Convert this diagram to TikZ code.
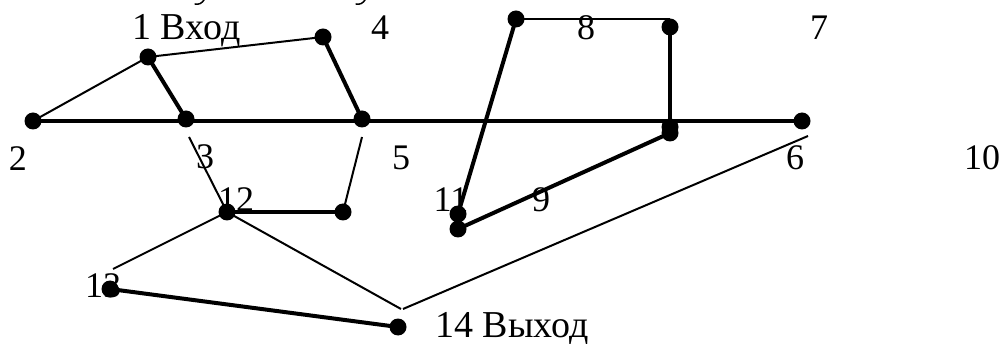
\documentclass[tikz,border=0pt]{standalone}
\usepackage{fontspec}
\setmainfont{Liberation Serif}
\tikzset{
  dotnode/.style={circle,fill=black,inner sep=0pt,minimum size=17pt},
  thinline/.style={line width=2pt},
  thickline/.style={line width=4pt},
  numlabel/.style={inner sep=0pt,font=\fontsize{36pt}{36pt}\selectfont,anchor=center},
  wordlabel/.style={inner sep=0pt,font=\fontsize{38pt}{38pt}\selectfont,anchor=base west}
}
\begin{document}
\begin{tikzpicture}[x=1pt,y=-1pt]
\useasboundingbox (0,0) rectangle (1000,344);
% labels
\node[wordlabel] (l1) at (132,40) {1 Вход};
\node[numlabel] (l2) at (18,158.5) {2};
\node[numlabel] (l3) at (205,156.5) {3};
\node[numlabel] (l4) at (380,28) {4};
\node[numlabel] (l5) at (401,157.5) {5};
\node[numlabel] (l6) at (795,158) {6};
\node[numlabel] (l7) at (819,28) {7};
\node[numlabel] (l8) at (586,28) {8};
\node[numlabel] (l9) at (541,200) {9};
\node[numlabel] (l10) at (982,158) {10};
\node[numlabel] (l11) at (451,200) {11};
\node[numlabel] (l12) at (236,200) {12};
\node[numlabel] (l13) at (103,286) {13};
\node[wordlabel] (l14) at (435,337) {14 Выход};
% clipped descenders at the top edge
\draw[line width=1.5pt,line cap=round] (195,4) .. controls (199,5) and (202,3) .. (204,0);
\draw[line width=1.5pt,line cap=round] (356,4) .. controls (360,5) and (363,3) .. (365,0);
% dots
\node[dotnode] (a1) at (148,57) {};
\node[dotnode] (a2) at (33,121) {};
\node[dotnode] (a3) at (186,119) {};
\node[dotnode] (a4) at (323,37) {};
\node[dotnode] (a5) at (362,119) {};
\node[dotnode] (a6) at (802,121) {};
\node[dotnode] (a7) at (516,19) {};
\node[dotnode] (a8) at (670,27) {};
\node[dotnode] (a9) at (670,127) {};
\node[dotnode] (a10) at (670,133) {};
\node[dotnode] (a11) at (458,214) {};
\node[dotnode] (a12) at (458,229) {};
\node[dotnode] (a13) at (227,212) {};
\node[dotnode] (a14) at (343,212) {};
\node[dotnode] (a15) at (110,289) {};
\node[dotnode] (a16) at (398,327) {};
\coordinate (f3) at (189,137);
\coordinate (f5) at (362,137);
\coordinate (f13) at (113,269);
\coordinate (f14a) at (401,309);
\coordinate (f14b) at (403,309);
\coordinate (f6) at (808,136);
\coordinate (f8) at (670,19);
% thin
\draw[thinline] (a1.center) -- (a2.center);
\draw[thinline] (a1.center) -- (a4.center);
\draw[thinline] (f3) -- (a13.center);
\draw[thinline] (f5) -- (a14.center);
\draw[thinline] (a13.center) -- (f13);
\draw[thinline] (a13.center) -- (f14a);
\draw[thinline] (f14b) -- (f6);
\draw[thinline] (a7.center) -- (f8);
% thick
\draw[thickline] (a2.center) -- (a6.center);
\draw[thickline] (a1.center) -- (a3.center);
\draw[thickline] (a4.center) -- (a5.center);
\draw[thickline] (a7.center) -- (a11.center);
\draw[thickline] (a8.center) -- (a9.center);
\draw[thickline] (a10.center) -- (a12.center);
\draw[thickline] (a13.center) -- (a14.center);
\draw[thickline] (a15.center) -- (a16.center);
\end{tikzpicture}
\end{document}
